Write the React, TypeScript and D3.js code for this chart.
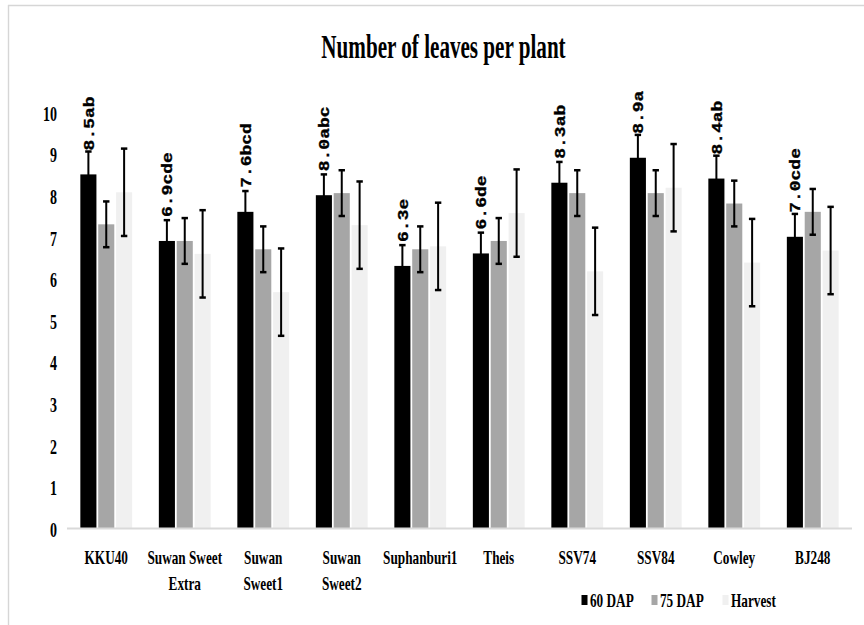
import React from "react";
import * as d3 from "d3";

// Varieties along the x axis (multi-line labels split by "|")
const categories = [
  "KKU40",
  "Suwan Sweet|Extra",
  "Suwan|Sweet1",
  "Suwan|Sweet2",
  "Suphanburi1",
  "Theis",
  "SSV74",
  "SSV84",
  "Cowley",
  "BJ248",
];

const seriesNames = ["60 DAP", "75 DAP", "Harvest"];
const seriesColors = ["#000000", "#a6a6a6", "#f0f0f0"];

// Mean number of leaves per plant
const dap60 = [8.5, 6.9, 7.6, 8.0, 6.3, 6.6, 8.3, 8.9, 8.4, 7.0];
const dap75 = [7.3, 6.9, 6.7, 8.05, 6.7, 6.9, 8.05, 8.05, 7.8, 7.6];
const harvest = [8.07, 6.59, 5.67, 7.28, 6.77, 7.57, 6.17, 8.18, 6.38, 6.67];

// Error bar half-widths
const err60 = [0.55, 0.5, 0.5, 0.5, 0.5, 0.5, 0.5, 0.55, 0.55, 0.55];
const err75 = [0.55, 0.55, 0.55, 0.55, 0.55, 0.55, 0.55, 0.55, 0.55, 0.55];
const errHarvest = [1.05, 1.05, 1.05, 1.05, 1.05, 1.05, 1.05, 1.05, 1.05, 1.05];

// Mean-separation letters for 60 DAP
const labels60 = ["8.5ab", "6.9cde", "7.6bcd", "8.0abc", "6.3e", "6.6de", "8.3ab", "8.9a", "8.4ab", "7.0cde"];

const yTicks = [0, 1, 2, 3, 4, 5, 6, 7, 8, 9, 10];

const W = 864;
const H = 625;
const SERIF = "'Liberation Serif', 'Times New Roman', serif";
const SX = 0.7; // horizontal condensing of serif text

export default function App() {
  const values = [dap60, dap75, harvest];
  const errors = [err60, err75, errHarvest];

  const x0 = d3
    .scaleBand<string>()
    .domain(categories)
    .range([67, 852])
    .paddingInner(0.34)
    .paddingOuter(0.17);
  const x1 = d3
    .scaleBand<string>()
    .domain(seriesNames)
    .range([0, x0.bandwidth()])
    .paddingInner(0.1);
  const y = d3.scaleLinear().domain([0, 10]).range([528, 112]);

  const bw = x1.bandwidth();

  return (
    <svg
      width={W}
      height={H}
      style={{ position: "absolute", left: 0, top: 0, background: "#fff" }}
    >
      {/* chart frame */}
      <line x1={8} y1={5.5} x2={W} y2={5.5} stroke="#d6d6d6" strokeWidth={1.6} />
      <line x1={8.5} y1={5} x2={8.5} y2={H} stroke="#d6d6d6" strokeWidth={1.4} />

      {/* title */}
      <text
        transform={`translate(443.5,58) scale(0.64,1)`}
        textAnchor="middle"
        fontFamily={SERIF}
        fontWeight="bold"
        fontSize={33}
        fill="#000"
      >
        Number of leaves per plant
      </text>

      {/* y tick labels */}
      {yTicks.map((t) => (
        <text
          key={t}
          transform={`translate(57,${y(t) + 2.5}) scale(${SX},1)`}
          textAnchor="end"
          dominantBaseline="central"
          fontFamily={SERIF}
          fontWeight="bold"
          fontSize={20}
          fill="#000"
        >
          {t}
        </text>
      ))}

      {/* bars */}
      {categories.map((c, i) => (
        <g key={c}>
          {seriesNames.map((s, k) => {
            const bx = (x0(c) as number) + (x1(s) as number);
            const v = values[k][i];
            return (
              <rect
                key={s}
                x={bx}
                y={y(v)}
                width={bw}
                height={y(0) - y(v)}
                fill={seriesColors[k]}
              />
            );
          })}
        </g>
      ))}

      {/* baseline */}
      <line x1={67} y1={528.5} x2={852} y2={528.5} stroke="#d9d9d9" strokeWidth={2} />

      {/* error bars */}
      {categories.map((c, i) => (
        <g key={c}>
          {seriesNames.map((s, k) => {
            const cx = (x0(c) as number) + (x1(s) as number) + bw / 2;
            const v = values[k][i];
            const e = errors[k][i];
            const yt = y(v + e);
            const yb = y(v - e);
            return (
              <g key={s} stroke="#000">
                <line x1={cx} x2={cx} y1={yt} y2={yb} strokeWidth={2} />
                <line x1={cx - 3.2} x2={cx + 3.2} y1={yt} y2={yt} strokeWidth={2.5} />
                <line x1={cx - 3.2} x2={cx + 3.2} y1={yb} y2={yb} strokeWidth={2.5} />
              </g>
            );
          })}
        </g>
      ))}

      {/* value labels for 60 DAP */}
      {categories.map((c, i) => {
        const cx = (x0(c) as number) + (x1(seriesNames[0]) as number) + bw / 2 + 1.5;
        const yBase = y(dap60[i]) - 24;
        return (
          <text
            key={c}
            transform={`translate(${cx},${yBase}) rotate(-90) scale(1,0.82)`}
            textAnchor="start"
            dominantBaseline="central"
            fontFamily="'Liberation Mono', 'Courier New', monospace"
            fontWeight="bold"
            fontSize={18}
            fill="#000"
            stroke="#000"
            strokeWidth={0.4}
          >
            {labels60[i]}
          </text>
        );
      })}

      {/* x category labels */}
      {categories.map((c) => {
        const cx = (x0(c) as number) + x0.bandwidth() / 2;
        const lines = c.split("|");
        return (
          <g key={c}>
            {lines.map((ln, j) => (
              <text
                key={j}
                transform={`translate(${cx},${564 + j * 26}) scale(0.68,1)`}
                textAnchor="middle"
                fontFamily={SERIF}
                fontWeight="bold"
                fontSize={19.5}
                fill="#000"
              >
                {ln}
              </text>
            ))}
          </g>
        );
      })}

      {/* legend */}
      {seriesNames.map((s, k) => {
        const lx = [581.5, 651.5, 722.5][k];
        return (
          <g key={s}>
            <rect x={lx} y={595} width={6} height={10} fill={seriesColors[k]} />
            <text
              transform={`translate(${lx + 8.5},606.5) scale(0.68,1)`}
              fontFamily={SERIF}
              fontWeight="bold"
              fontSize={19.5}
              fill="#000"
            >
              {s}
            </text>
          </g>
        );
      })}
    </svg>
  );
}
